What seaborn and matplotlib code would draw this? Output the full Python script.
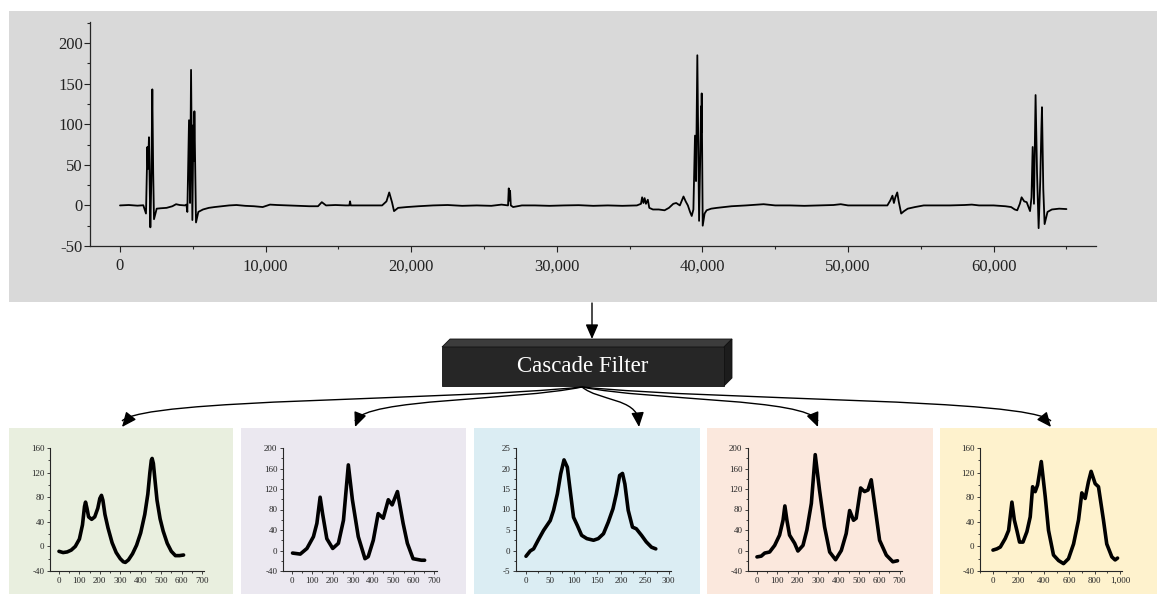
import numpy as np
import pandas as pd
import matplotlib
matplotlib.use("Agg")
import matplotlib.pyplot as plt
import seaborn as sns
from matplotlib.patches import Rectangle, Polygon, FancyArrowPatch, PathPatch
from matplotlib.path import Path
from matplotlib.ticker import FuncFormatter, MultipleLocator

# ---------------- data ----------------
main_x = [0, 600, 1200, 1600, 1785, 1880, 1920, 1990, 2085, 2150, 2220, 2280, 2335, 2520, 2800, 3200, 3600,
          3850, 4100, 4450, 4560, 4625, 4740, 4810, 4880, 4970, 5040, 5075, 5110, 5220, 5380, 5700, 6100,
          6500, 7000, 7500, 8000, 8600, 9200, 9800, 10300, 10800, 11500, 12200, 13000, 13600, 13860,
          14150, 14800, 15500, 15750, 15800, 15850, 16500, 17200, 18000, 18300, 18490, 18680, 18820,
          19100, 19700, 20500, 21500, 22500, 23500, 24500, 25500, 26200, 26650, 26700, 26740, 26790,
          26840, 27000, 27600, 28500, 29500, 30500, 31500, 32500, 33500, 34500, 35500, 35780, 35860,
          35950, 36030, 36120, 36250, 36350, 36600, 37000, 37400, 37700, 38000, 38200, 38450, 38700,
          38850, 39000, 39150, 39265, 39380, 39490, 39560, 39650, 39770, 39850, 39905, 39930, 39950,
          40020, 40150, 40290, 40600, 41000, 42000, 43000, 44200, 45000, 46000, 47000, 48000, 49000,
          49500, 50000, 51000, 52000, 52700, 52900, 53050, 53150, 53250, 53380, 53480, 53650, 53850,
          54100, 54600, 55200, 56000, 57000, 58000, 58500, 59000, 60000, 60800, 61200, 61450, 61620,
          61800, 61920, 62100, 62270, 62500, 62600, 62680, 62770, 62880, 62980, 63090, 63200, 63280,
          63320, 63410, 63500, 63700, 64000, 64500, 65000]
main_y = [0, 0.5, -0.3, 0.2, -10, 72, 45, 84, -27, 30, 143, 40, -17, -4, -3.5, -3, -1,
          1.5, 0.5, 0, 1, -8, 105, 3, 167, -18, 99, 55, 116, -21, -8, -5, -3,
          -2, -1, 0, 0.5, -0.5, -1, -2, 1, 0.5, 0, -0.5, -1, -1, 4,
          0, 0.5, 0, 0, 5, 0, 0, 0, 0, 5, 16, 4, -7,
          -3, -2, -1, 0, 0.5, -0.5, 0, -0.5, 1, 0, 21, 6, 18,
          0, -2, 0, 0, -0.5, 0, 0.3, -0.5, 0, -0.5, 0, 2, 10,
          3, 9, 2, 7, -3, -5, -5, -6, -3, 2, 3, 0, 11,
          5, 0, -8, -13, -5, 86, 30, 185, -19, 60, 122, 90, 138,
          -25, -10, -6, -4, -3, -1, 0, 1.5, 0, 0, -0.5, 0, 0.5,
          1.5, 0, 0, 0, 0, 6, 12, 3, 10, 16, 5, -10, -7,
          -4, -2, 0, 0, 0, 0.5, 1, 0, 0, -1, -2, -5, -6,
          2, 10, 5, 4, -7, 10, 72, 2, 136, 40, -28, 30, 95,
          121, 20, -23, -8, -5, -4, -4.5]

p1_x = [0, 20, 40, 60, 80, 100, 115, 125, 130, 137, 145, 160, 175, 190, 200, 208, 215, 225, 240, 260,
        280, 300, 315, 325, 340, 360, 380, 400, 420, 435, 445, 452, 456, 462, 470, 480, 495, 510, 530,
        550, 570, 590, 610]
p1_y = [-8, -10, -9, -6, 0, 12, 35, 65, 72, 62, 48, 44, 48, 62, 78, 83, 75, 52, 30, 6,
        -10, -20, -25, -26, -22, -12, 2, 22, 52, 85, 120, 140, 143, 135, 108, 75, 45, 25, 5,
        -8, -15, -15, -14]

p2_x = [3, 41, 74, 106, 123, 139, 151, 172, 201, 229, 254, 278, 298, 327, 360, 376, 401, 425, 450,
        475, 494, 520, 548, 569, 597, 638, 654]
p2_y = [-5, -7, 4, 27, 53, 104, 72, 23, 4, 14, 59, 167, 99, 27, -16, -12, 20, 72, 63,
        99, 89, 115, 53, 14, -16, -19, -19]

p3_x = [0, 9, 16, 26, 37, 51, 58, 66, 73, 80, 87, 93, 100, 108, 117, 128, 142, 152, 163, 173, 183,
        190, 197, 203, 208, 215, 224, 232, 243, 253, 264, 273]
p3_y = [-1.4, -0.1, 0.4, 2.6, 4.9, 7.3, 9.8, 13.8, 18.7, 22.1, 20.3, 14.6, 8.1, 6.1, 3.7, 2.9, 2.5,
        2.9, 4.1, 6.9, 10.2, 13.8, 18.3, 18.8, 16.2, 9.8, 5.7, 5.3, 3.7, 2.1, 0.8, 0.4]

p4_x = [0, 21, 38, 62, 87, 111, 128, 137, 147, 160, 185, 201, 226, 245, 267, 286, 307, 332, 357, 386,
        414, 438, 455, 474, 487, 509, 528, 545, 561, 577, 602, 635, 667, 690]
p4_y = [-12.5, -11, -5, -3, 10, 30, 59, 87, 59, 30, 14, -1, 10, 40, 92, 187, 118, 46, -3, -18,
        0, 33, 78, 59, 63, 122, 115, 118, 138, 92, 20, -9, -22, -20]

p5_x = [0, 31, 58, 97, 123, 149, 168, 188, 209, 236, 267, 293, 312, 332, 351, 380, 411, 437, 476, 516,
        555, 594, 634, 673, 699, 725, 751, 772, 804, 830, 869, 895, 935, 961, 980]
p5_y = [-6, -4, -1, 13, 26, 72, 43, 26, 7, 7, 24, 48, 97, 89, 100, 138, 81, 26, -14, -23,
        -28, -20, 4, 43, 87, 78, 105, 122, 102, 97, 43, 4, -17, -22, -19]

main_xticks = [0, 10000, 20000, 30000, 40000, 50000, 60000]
main_yticks = [-50, 0, 50, 100, 150, 200]
panel_colors = ["#e9efdf", "#ebe8f0", "#dbedf3", "#fbe8dd", "#fef2cd"]
label_text = "Cascade Filter"

# ---------------- figure ----------------
sns.set_style("ticks")
plt.rcParams['font.family'] = ['Liberation Serif', 'DejaVu Serif']
plt.rcParams['axes.unicode_minus'] = False

W, H = 1157, 594
fig = plt.figure(figsize=(W / 100, H / 100), dpi=100)


def px_axes(l, t, r, b, **kw):
    return fig.add_axes([l / W, 1 - b / H, (r - l) / W, (b - t) / H], **kw)


# background layer
bg = fig.add_axes([0, 0, 1, 1], zorder=-5)
bg.set_xlim(0, W)
bg.set_ylim(H, 0)
bg.axis('off')
bg.add_patch(Rectangle((9, 11), W - 9, 291, color="#d9d9d9", lw=0))
panel_boxes = [(9, 233), (241, 466), (474, 700), (707, 933), (940, 1157)]
for (l, r), c in zip(panel_boxes, panel_colors):
    bg.add_patch(Rectangle((l, 428), r - l, H - 428, color=c, lw=0))

comma = FuncFormatter(lambda v, p: f"{v:,.0f}")

# top axis
ax = px_axes(90, 22, 1096, 246)
ax.set_facecolor('none')
sns.lineplot(x=main_x, y=main_y, ax=ax, color='black', lw=1.3, estimator=None, sort=False)
ax.set_xlim(-2060, 67030)
ax.set_ylim(-50, 226)
ax.set_xticks(main_xticks)
ax.set_yticks(main_yticks)
ax.xaxis.set_minor_locator(MultipleLocator(5000))
ax.yaxis.set_minor_locator(MultipleLocator(25))
ax.xaxis.set_major_formatter(comma)
ax.tick_params(which='major', direction='out', length=4, width=0.8, labelsize=12, colors='#222222')
ax.tick_params(which='minor', direction='out', length=2.5, width=0.8)
ax.tick_params(axis='x', pad=5)
ax.tick_params(axis='y', pad=1)
for s in ['left', 'bottom']:
    ax.spines[s].set_linewidth(0.9)
sns.despine(ax=ax)

# bottom panels
panels = [
    (p1_x, p1_y, (50, 448, 204, 571), (-44, 710), (-40, 160), 100, 40),
    (p2_x, p2_y, (283, 448, 437, 571), (-44, 715), (-40, 200), 100, 40),
    (p3_x, p3_y, (516, 448, 671, 571), (-21, 305), (-5, 25), 50, 5),
    (p4_x, p4_y, (748, 448, 902, 571), (-44, 712), (-40, 200), 100, 40),
    (p5_x, p5_y, (980, 448, 1122, 571), (-102, 1015), (-40, 160), 200, 40),
]
for xs, ys, rect, xl, yl, xstep, ystep in panels:
    a = px_axes(*rect)
    a.set_facecolor('none')
    sns.lineplot(x=xs, y=ys, ax=a, color='black', lw=2.6, estimator=None, sort=False)
    a.set_xlim(*xl)
    a.set_ylim(*yl)
    xmax = int(np.floor(xl[1] / xstep) * xstep)
    a.set_xticks(np.arange(0, xmax + 1, xstep))
    a.set_yticks(np.arange(yl[0], yl[1] + 0.1, ystep))
    a.xaxis.set_minor_locator(MultipleLocator(xstep / 2))
    a.yaxis.set_minor_locator(MultipleLocator(ystep / 2))
    a.xaxis.set_major_formatter(comma)
    a.tick_params(which='major', direction='out', length=2.5, width=0.6, labelsize=6.5, pad=1.5)
    a.tick_params(which='minor', direction='out', length=1.5, width=0.6)
    for s in ['left', 'bottom']:
        a.spines[s].set_linewidth(0.8)
    sns.despine(ax=a)

# overlay: box and arrows
ov = fig.add_axes([0, 0, 1, 1], zorder=5)
ov.set_facecolor('none')
ov.set_xlim(0, W)
ov.set_ylim(H, 0)
ov.axis('off')

ov.add_patch(Polygon([(442, 347), (450, 339), (732, 339), (724, 347)], closed=True,
                     facecolor="#3c3c3c", edgecolor="#111111", lw=0.6))
ov.add_patch(Polygon([(724, 347), (732, 339), (732, 378), (724, 386)], closed=True,
                     facecolor="#1c1c1c", edgecolor="#111111", lw=0.6))
ov.add_patch(Rectangle((442, 347), 282, 39, facecolor="#262626", edgecolor="#111111", lw=0.6))
ov.text(583, 367, label_text, color='white', fontsize=16.5, ha='center', va='center')

astyle = "-|>,head_length=0.8,head_width=0.35"
ov.add_patch(FancyArrowPatch((592, 303), (592, 339), arrowstyle=astyle, mutation_scale=11,
                             color='black', lw=1.0, shrinkA=0, shrinkB=0))

targets = [122, 355, 639, 818, 1051]
x0, y0 = 582, 387
for xt in targets:
    dx = xt - x0
    p2 = (xt - 0.05 * dx, 398)
    verts = [(x0, y0), (x0 + 0.3 * dx, 401), p2, (xt, 421)]
    codes = [Path.MOVETO, Path.CURVE4, Path.CURVE4, Path.CURVE4]
    ov.add_patch(PathPatch(Path(verts, codes), fill=False, edgecolor='black', lw=1.0))
    # arrow head following the end tangent
    tx, ty = xt - p2[0], 427 - p2[1]
    n = np.hypot(tx, ty)
    start = (xt - tx / n * 9, 427 - ty / n * 9)
    ov.add_patch(FancyArrowPatch(start, (xt, 427), arrowstyle=astyle, mutation_scale=11,
                                 color='black', lw=1.0, shrinkA=0, shrinkB=0))

fig.savefig("out.png", dpi=100)
